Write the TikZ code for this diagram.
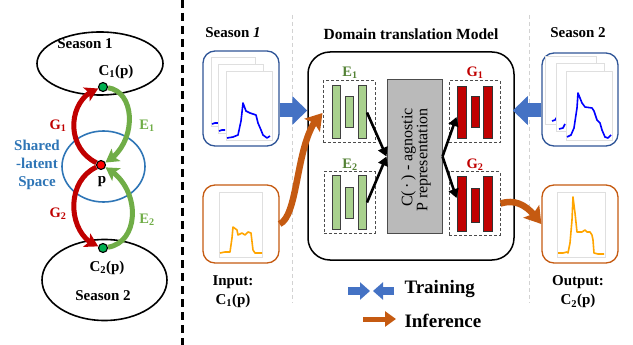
\documentclass[tikz,border=0pt]{standalone}
\usepackage{fontspec}
\setmainfont{Liberation Serif}
\usetikzlibrary{arrows.meta,shapes.geometric,calc,bending}
\pgfdeclarelayer{back}
\pgfdeclarelayer{mid}
\pgfsetlayers{back,mid,main}
\definecolor{boxblue}{HTML}{2F5597}
\definecolor{arrblue}{HTML}{4472C4}
\definecolor{orbox}{HTML}{C55A11}
\definecolor{orarr}{HTML}{C55A11}
\definecolor{redc}{HTML}{C00000}
\definecolor{greenc}{HTML}{70AD47}
\definecolor{greenlab}{HTML}{548235}
\definecolor{barg}{HTML}{A9D18E}
\definecolor{sharedblue}{HTML}{2E75B6}
\definecolor{plotor}{HTML}{FFA500}
\definecolor{dotgreen}{HTML}{00B050}
\definecolor{dotred}{HTML}{FF0000}
\begin{document}
\begin{tikzpicture}[x=1pt,y=-1pt,
  bf/.style={font=\bfseries\fontsize{15}{17}\selectfont},
  lab/.style={font=\bfseries\fontsize{14.5}{16}\selectfont},
  dot/.style={circle,draw=black,line width=1.1pt,inner sep=0pt,minimum size=9pt},
  redarc/.style={draw=redc,line width=5pt,-{Stealth[length=13pt,width=15pt,inset=3pt]}},
  greenarc/.style={draw=greenc,line width=5pt,-{Stealth[length=13pt,width=15pt,inset=3pt]}},
  rbox/.style={draw,line width=1.3pt,rounded corners=12pt,inner sep=0pt},
  page/.style={draw=gray!25,fill=white,line width=0.6pt},
  dbox/.style={draw=gray!60!black,line width=1pt,dash pattern=on 3pt off 2pt,inner sep=0pt},
  gbar/.style={draw=black!75,fill=barg,line width=1pt,inner sep=0pt,minimum width=8pt},
  rbar/.style={draw=black!80,fill=redc,line width=1pt,inner sep=0pt,minimum width=9pt},
  blk/.style={draw=black,line width=2.6pt,-{Triangle[length=9pt,width=10pt]}},
  fatblue/.style={draw=arrblue,line width=14pt,-{Triangle[length=15pt,width=28pt]}},
  orarrow/.style={draw=orarr,line width=6.5pt,-{Stealth[length=16pt,width=20pt,inset=3pt]}},
  bplot/.style={draw=blue,line width=1.6pt,line join=round},
  oplot/.style={draw=plotor,line width=1.6pt,line join=round}
]
\useasboundingbox (0,0) rectangle (633,345);

% ---------------- left panel ----------------
\begin{pgfonlayer}{back}
\node[ellipse,draw,line width=1.6pt,minimum width=126pt,minimum height=63pt] (s1) at (100,63.5) {};
\node[ellipse,draw,line width=1.6pt,minimum width=125pt,minimum height=81pt] (s2) at (104.5,280) {};
\node[ellipse,draw=sharedblue,line width=1.6pt,minimum width=83pt,minimum height=71pt] (lat) at (103.5,166.5) {};
\end{pgfonlayer}
\node[bf] (s1t) at (85,44) {Season 1};
\node[bf] (s2t) at (103,296) {Season 2};
\node[bf] (c1t) at (116,72) {C\textsubscript{1}(p)};
\node[bf] (c2t) at (107,268) {C\textsubscript{2}(p)};
\node[dot,fill=dotgreen] (c1) at (103,87) {};
\node[dot,fill=dotgreen] (c2) at (103,248) {};
\node[dot,fill=dotred] (p) at (101,165) {};
\node[bf] (pt) at (102,182) {p};
\node[bf,text=sharedblue,align=center,font=\bfseries\fontsize{15}{18}\selectfont] (sh) at (37,165) {Shared\\-latent\\Space};
\node[lab,text=redc] (g1l) at (58,126) {G\textsubscript{1}};
\node[lab,text=greenc] (e1l) at (147,126) {E\textsubscript{1}};
\node[lab,text=redc] (g2l) at (58,214) {G\textsubscript{2}};
\node[lab,text=greenc] (e2l) at (147,220) {E\textsubscript{2}};
\begin{pgfonlayer}{mid}
\draw[redarc] (p) .. controls (64,147) and (68,98) .. (c1);
\draw[greenarc] (c1) .. controls (137,92) and (137,145) .. (p);
\draw[redarc] (p) .. controls (64,182) and (68,236) .. (c2);
\draw[greenarc] (c2) .. controls (141,242) and (141,186) .. (p);
\end{pgfonlayer}

% separator
\draw[line width=3pt,dash pattern=on 8pt off 5pt] (182,0) -- (182,345);
\draw[gray!35,line width=0.8pt,dash pattern=on 4pt off 3pt] (292,15) -- (292,303);
\draw[gray!35,line width=0.8pt,dash pattern=on 4pt off 3pt] (529,15) -- (529,303);

% ---------------- season 1 input ----------------
\node[bf] (r1t) at (233,33) {Season \textit{1}};
\node[rbox,draw=boxblue,minimum width=76pt,minimum height=95pt] (in1) at (241,98.5) {};
\draw[page] (211,57) rectangle (255,126);
\draw[bplot] (212,124) -- (215,123) -- (218,123);
\draw[page] (218,64) rectangle (263,133);
\draw[bplot] (219,131) -- (222,130) -- (225,130);
\draw[page] (226,71) rectangle (272,140);
\draw[bplot] plot coordinates {(227,138) (233,137) (238,135) (241,121) (243,103) (246,111) (250,113) (256,115) (258,123) (261,130) (263,135) (267,138) (270,136)};

\node[rbox,draw=orbox,minimum width=76pt,minimum height=78pt] (inp) at (241,224) {};
\draw[page] (219,192) rectangle (262,257);
\draw[oplot] plot coordinates {(220,253) (225,252) (230,252) (232,238) (233,227) (237,230) (238,235) (242,233) (245,235) (248,232) (251,233) (253,250) (255,253) (262,253)};
\node[bf,align=center,font=\bfseries\fontsize{15}{19}\selectfont] (inl) at (233,292) {Input:\\C\textsubscript{1}(p)};

% ---------------- season 2 ----------------
\node[bf] (r2t) at (578,33) {Season 2};
\node[rbox,draw=boxblue,minimum width=76pt,minimum height=93pt] (in2) at (580,99.5) {};
\draw[page] (545,56) rectangle (596,124);
\draw[bplot] (552,121) -- (555,120) -- (557,117);
\draw[page] (556,63) rectangle (604,131);
\draw[bplot] (559,129) -- (563,128) -- (565,124);
\draw[page] (566,71) rectangle (612,140);
\draw[bplot] plot coordinates {(567,137) (571,135) (574,128) (577,108) (578,93) (582,103) (585,107) (592,108) (594,111) (597,120) (600,123) (602,130) (605,137) (608,138) (611,135)};

\node[rbox,draw=orbox,minimum width=76pt,minimum height=78pt] (outp) at (580,224) {};
\draw[page] (557,192) rectangle (605,257);
\draw[oplot] plot coordinates {(558,253) (563,253) (567,252) (568,253) (570,243) (572,220) (573,197) (575,213) (577,232) (582,232) (585,230) (587,232) (590,232) (592,235) (593,240) (594,253) (598,254) (604,254)};
\node[bf,align=center,font=\bfseries\fontsize{15}{19}\selectfont] (outl) at (578,292) {Output:\\C\textsubscript{2}(p)};

% ---------------- model ----------------
\node[bf,font=\bfseries\fontsize{15.5}{17}\selectfont] (mt) at (411,34) {Domain translation Model};
\node[draw,line width=1.5pt,rounded corners=22pt,minimum width=206pt,minimum height=208pt,inner sep=0pt] (model) at (411,156) {};

\node[lab,text=greenlab] (e1m) at (350,73) {E\textsubscript{1}};
\node[lab,text=greenlab] (e2m) at (350,165) {E\textsubscript{2}};
\node[lab,text=redc] (g1m) at (475,73) {G\textsubscript{1}};
\node[lab,text=redc] (g2m) at (475,165) {G\textsubscript{2}};

\node[dbox,minimum width=52pt,minimum height=62pt] (e1b) at (349,112) {};
\node[dbox,minimum width=51pt,minimum height=61pt] (e2b) at (349.5,202.5) {};
\node[dbox,minimum width=51pt,minimum height=62pt] (g1b) at (474.5,112) {};
\node[dbox,minimum width=51pt,minimum height=63pt] (g2b) at (474.5,203.5) {};

\node[gbar,minimum height=53pt] (e1a) at (336,112.5) {};
\node[gbar,minimum height=31pt] (e1m2) at (349,112.5) {};
\node[gbar,minimum height=53pt] (e1c) at (362.5,112.5) {};
\node[gbar,minimum height=53pt] (e2a) at (336,202.5) {};
\node[gbar,minimum height=31pt] (e2m2) at (349,203) {};
\node[gbar,minimum height=53pt] (e2c) at (362.5,202.5) {};

\node[rbar,minimum height=52pt] (g1a) at (461.5,113) {};
\node[rbar,minimum height=31pt,minimum width=8pt] (g1m2) at (475,112.5) {};
\node[rbar,minimum height=52pt] (g1c) at (488,113) {};
\node[rbar,minimum height=54pt] (g2a) at (461.5,204) {};
\node[rbar,minimum height=33pt,minimum width=8pt] (g2m2) at (475,205.5) {};
\node[rbar,minimum height=54pt] (g2c) at (488,204) {};

\node[draw=black!70,fill=black!27,line width=1pt,minimum width=55pt,minimum height=153pt,inner sep=0pt] (rep) at (414.5,156.5) {};
\node[rotate=90,align=right,font=\fontsize{16}{13.5}\selectfont] (rept) at (416,160) {C(\,·\,) - agnostic\\P representation};

\draw[blk] (e1c.east) -- (rep.west);
\draw[blk] (e2c.east) -- (rep.west);
\draw[blk] (rep.east) -- ([yshift=-4pt]g1a.west);
\draw[blk] (rep.east) -- ([yshift=6pt]g2a.west);

% ---------------- big arrows ----------------
\coordinate (a1) at ([yshift=-12pt]in1.east);
\draw[fatblue] (a1) -- (a1 -| model.west);
\coordinate (a2) at ([yshift=-11pt]in2.west);
\draw[fatblue] (a2) -- ([xshift=-2pt]a2 -| model.east);
\draw[orarrow] (inp.east) .. controls (300,215) and (295,135) .. ([yshift=-1pt]e1b.west);
\draw[orarrow] (g2b.east) .. controls (518,198) and (530,208) .. (outp.west);

% ---------------- legend ----------------
\coordinate (lb1) at (348,291);
\coordinate (lb2) at (370,291);
\coordinate (lb3) at (394,291);
\coordinate (lb4) at (373,291);
\draw[draw=arrblue,line width=8pt,-{Triangle[length=10pt,width=17pt]}] (lb1) -- (lb2);
\draw[draw=arrblue,line width=8pt,-{Triangle[length=10pt,width=17pt]}] (lb3) -- (lb4);
\node[anchor=west,font=\bfseries\fontsize{19}{22}\selectfont] (train) at (401,289) {Training};
\coordinate (lo1) at (363,319);
\coordinate (lo2) at (396,319);
\draw[draw=orarr,line width=5pt,-{Triangle[length=11pt,width=15pt]}] (lo1) -- (lo2);
\node[anchor=west,font=\bfseries\fontsize{19}{22}\selectfont] (infer) at (401,321) {Inference};
\end{tikzpicture}
\end{document}
